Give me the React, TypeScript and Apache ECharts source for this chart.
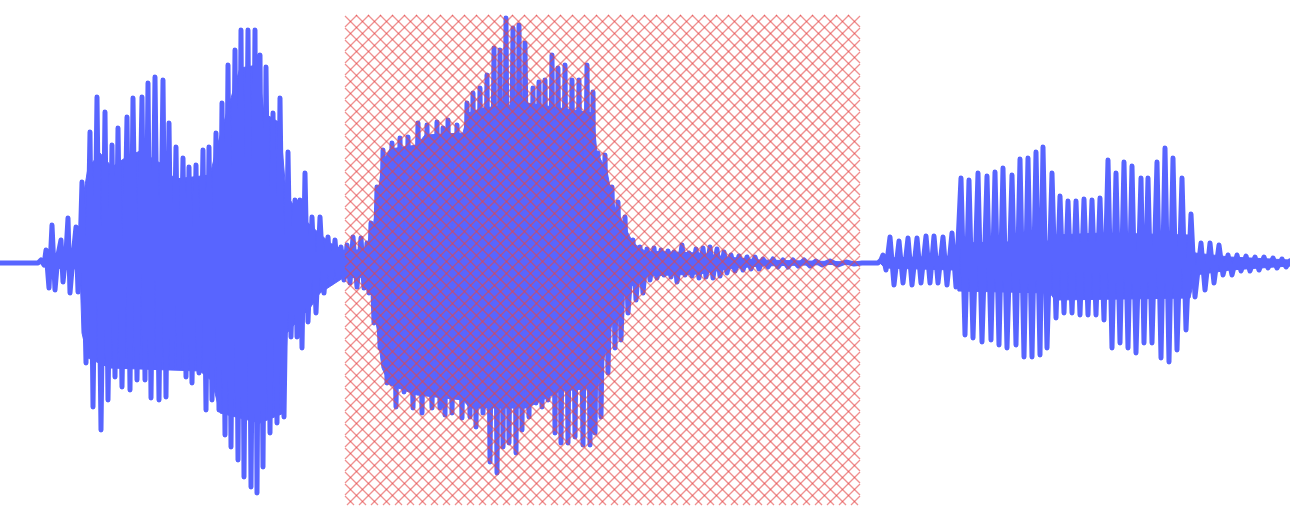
import React, { useEffect, useRef } from "react";
import * as echarts from "echarts";

// [time, amplitude] samples
const onset: [number, number][] = [
  [0, 0], [38, 0], [41, 3], [44, -2], [46, 13], [49, -25], [52, 38], [55, -27], [58, 8], [61, 23],
  [63, -19], [66, 10], [68, 45], [70, -30], [73, 6], [76, 36], [78, -29], [80, 10],
];

const burst1: [number, number][] = [
  [82, 81], [86, -100], [90, 131], [93, -144], [97, 166], [101, -167], [105, 151], [108, -137],
  [112, 118], [115, -114], [118, 135], [122, -124], [127, 146], [130, -127], [133, 165], [137, -117],
  [142, 166], [145, -117], [148, 180], [151, -135], [155, 186], [159, -137], [163, 183], [166, -134],
  [169, 140], [172, -104], [176, 116], [179, -104], [183, 105], [186, -114], [189, 96], [192, -120],
  [196, 98], [199, -110], [203, 113], [206, -147], [209, 116], [212, -137], [216, 130], [219, -147],
  [222, 160], [225, -172], [228, 198], [231, -184], [235, 213], [238, -197], [241, 233], [244, -214],
  [248, 233], [251, -224], [255, 233], [257, -230], [260, 208], [263, -204], [266, 196], [270, -170],
  [273, 150], [277, -160], [280, 165], [284, -154], [288, 111], [291, -74], [295, 63], [297, -74],
  [300, 63], [302, -85], [305, 90], [308, -59], [312, 46], [316, -50], [320, 46], [324, -30],
  [328, 26], [331, -20], [335, 23], [338, -14], [341, 16], [344, -17],
];

const burst2: [number, number][] = [
  [347, 18], [350, -20], [353, 26], [357, -24], [361, 25], [364, -25], [367, 20], [369, -30],
  [371, 40], [374, -60], [377, 76], [380, -85], [383, 113], [387, -120], [392, 120], [396, -144],
  [400, 125], [404, -129], [408, 126], [413, -145], [418, 140], [422, -150], [427, 138], [432, -145],
  [437, 141], [440, -145], [443, 135], [445, -152], [448, 143], [452, -150], [457, 138], [462, -155],
  [467, 160], [470, -154], [473, 170], [476, -164], [480, 175], [483, -150], [487, 188], [490, -199],
  [494, 215], [497, -210], [500, 213], [503, -184], [506, 245], [509, -180], [513, 235], [516, -190],
  [519, 238], [522, -167], [525, 220], [529, -154], [533, 175], [536, -140], [539, 181], [542, -144],
  [545, 183], [548, -137], [552, 208], [555, -170], [558, 195], [561, -180], [565, 198], [568, -180],
  [572, 183], [575, -174], [579, 183], [583, -182], [587, 198], [590, -182], [593, 171], [595, -170],
  [598, 110], [601, -154], [605, 108], [608, -110], [612, 76], [615, -85], [618, 61], [621, -77],
  [625, 46], [628, -50], [633, 23], [636, -37], [640, 16], [643, -30], [647, 14], [650, -17],
  [654, 15], [657, -15],
];

const tail: [number, number][] = [
  [661, 13], [664, -12], [668, 12], [671, -14], [674, 11], [677, -19], [682, 18], [685, -12],
  [689, 10], [692, -13], [696, 14], [699, -15], [703, 15], [706, -14], [710, 16], [713, -15],
  [717, 14], [720, -13], [724, 11], [727, -10], [731, 8], [735, -8], [739, 7], [743, -7],
  [747, 6], [751, -6], [755, 6], [759, -6], [763, 4], [768, -4], [773, 4], [778, -4],
  [783, 3], [788, -4], [793, 3], [798, -3], [804, 3], [810, -3], [816, 2], [822, -2],
  [830, 2], [838, -2], [846, 1], [854, -1], [862, 0], [878, 0],
];

const burst3: [number, number][] = [
  [881, 3], [883, 8], [886, -7], [890, 26], [894, -22], [899, 22], [903, -20], [908, 25],
  [912, -22], [917, 25], [921, -20], [926, 27], [930, -20], [934, 27], [938, -20], [943, 26],
  [947, -22], [952, 30], [956, -24], [961, 85], [965, -72], [969, 83], [973, -75], [978, 90],
  [982, -79], [987, 87], [991, -77], [995, 91], [999, -82], [1003, 95], [1007, -85], [1012, 88],
  [1016, -82], [1020, 104], [1024, -94], [1028, 105], [1032, -94], [1036, 111], [1040, -92], [1043, 116],
  [1047, -85], [1052, 90], [1056, -55], [1060, 67], [1064, -50], [1068, 62], [1072, -50], [1076, 62],
  [1080, -52], [1084, 64], [1088, -52], [1092, 63], [1096, -52], [1100, 65], [1104, -57], [1108, 103],
  [1112, -85], [1116, 90], [1120, -80], [1124, 101], [1128, -85], [1132, 97], [1136, -90], [1141, 85],
  [1144, -80], [1148, 85], [1152, -80], [1157, 101], [1161, -95], [1165, 115], [1169, -99], [1173, 105],
  [1177, -87], [1182, 85], [1186, -67], [1191, 49], [1195, -34], [1201, 20], [1205, -27], [1210, 20],
  [1214, -20], [1219, 18], [1223, -12], [1228, 8], [1232, -12], [1237, 8], [1241, -8], [1246, 7],
  [1250, -8], [1255, 6], [1259, -7], [1264, 6], [1268, -5], [1273, 5], [1277, -5], [1282, 4],
  [1286, -4], [1290, 2],
];

// dense body of the waveform (envelope of the fast oscillation), upper and lower edges
const bodyUpper: [number, number][] = [
  [0, 0], [40, 0], [46, 4], [60, 5], [80, 6], [82, 60], [88, 95], [100, 110], [112, 96], [125, 105],
  [140, 112], [160, 100], [175, 84], [210, 88], [218, 120], [228, 155], [240, 195], [258, 198],
  [264, 150], [280, 140], [286, 70], [295, 55], [310, 38], [330, 20], [345, 12], [368, 14],
  [372, 30], [377, 60], [382, 100], [390, 114], [417, 118], [425, 128], [463, 130], [468, 150],
  [483, 155], [527, 160], [593, 150], [597, 110], [607, 92], [613, 60], [620, 46], [627, 32],
  [633, 20], [645, 12], [700, 10], [727, 6], [760, 3], [855, 1], [860, 0], [880, 0], [885, 5],
  [955, 7], [958, 20], [1050, 22], [1055, 28], [1103, 30], [1190, 28], [1195, 10], [1230, 6], [1290, 3],
];

const bodyLower: [number, number][] = [
  [0, 0], [40, 0], [46, -5], [80, -6], [82, -70], [88, -95], [110, -105], [200, -108], [212, -118],
  [220, -150], [260, -160], [284, -150], [287, -70], [300, -55], [310, -45], [320, -30], [343, -15],
  [368, -14], [372, -35], [377, -65], [382, -105], [390, -122], [417, -132], [463, -137], [470, -145],
  [527, -145], [560, -128], [597, -125], [603, -100], [610, -68], [617, -44], [623, -30], [633, -22],
  [645, -13], [700, -11], [727, -6], [760, -3], [855, -1], [860, 0], [880, 0], [885, -5], [955, -7],
  [958, -28], [1050, -30], [1055, -37], [1190, -35], [1195, -12], [1230, -7], [1290, -3],
];

// highlighted (hatched) time span
const highlightRange: [number, number] = [345, 860];

const BLUE = "#5865ff";

export default function App() {
  const ref = useRef<HTMLDivElement>(null);

  useEffect(() => {
    const chart = echarts.init(ref.current as HTMLDivElement, null, { renderer: "svg" });
    const wave = [...onset, ...burst1, ...burst2, ...tail, ...burst3];
    const hatchStep = 12;
    const hatchColor = "rgba(228,70,70,0.6)";

    const bodySeries = (data: [number, number][]) => ({
      type: "line",
      data,
      showSymbol: false,
      symbol: "none",
      z: 1,
      silent: true,
      lineStyle: { color: BLUE, width: 1 },
      areaStyle: { color: BLUE, opacity: 1 },
    });

    chart.setOption({
      animation: false,
      grid: { left: 0, right: 0, top: 15, bottom: 16 },
      xAxis: { type: "value", min: 0, max: 1290, show: false },
      yAxis: { type: "value", min: -242, max: 248, show: false },
      series: [
        bodySeries(bodyUpper),
        bodySeries(bodyLower),
        {
          type: "line",
          data: wave,
          showSymbol: false,
          symbol: "none",
          z: 2,
          lineStyle: { color: BLUE, width: 5, join: "round", cap: "round" },
        },
        {
          type: "custom",
          z: 3,
          silent: true,
          encode: { x: [0, 1] },
          data: [highlightRange],
          renderItem: (params: any, api: any) => {
            const cs = params.coordSys;
            const x0 = api.coord([api.value(0), 0])[0];
            const x1 = api.coord([api.value(1), 0])[0];
            const y0 = cs.y;
            const y1 = cs.y + cs.height;
            const children: any[] = [];
            for (let c = y0 - x1; c <= y1 - x0; c += hatchStep) {
              const xa = Math.max(x0, y0 - c);
              const xb = Math.min(x1, y1 - c);
              if (xb <= xa) continue;
              children.push({
                type: "line",
                shape: { x1: xa, y1: xa + c, x2: xb, y2: xb + c },
                style: { stroke: hatchColor, lineWidth: 1.3 },
              });
            }
            for (let c = x0 + y0; c <= x1 + y1; c += hatchStep) {
              const xa = Math.max(x0, c - y1);
              const xb = Math.min(x1, c - y0);
              if (xb <= xa) continue;
              children.push({
                type: "line",
                shape: { x1: xa, y1: c - xa, x2: xb, y2: c - xb },
                style: { stroke: hatchColor, lineWidth: 1.3 },
              });
            }
            return { type: "group", children };
          },
        },
      ],
    });
    return () => chart.dispose();
  }, []);

  return (
    <div
      ref={ref}
      style={{ position: "fixed", left: 0, top: 0, width: 1290, height: 521 }}
    />
  );
}
